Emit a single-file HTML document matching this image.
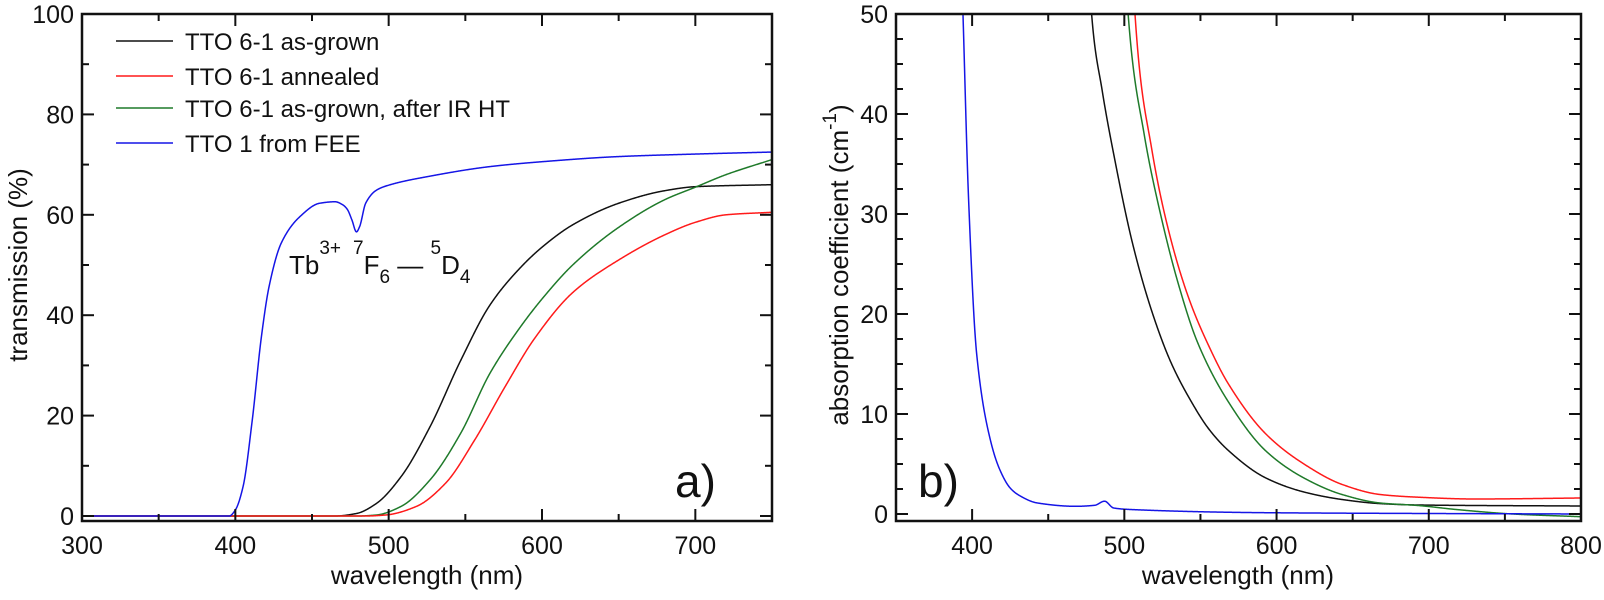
<!DOCTYPE html>
<html><head><meta charset="utf-8"><style>
body{margin:0;background:#fff}
svg text{font-family:"Liberation Sans",sans-serif;fill:#111}
</style></head><body>
<svg id="c" width="1604" height="595" xmlns="http://www.w3.org/2000/svg"></svg>
<script>
// Panel a) transmission data
const aBlueX=[300,396,400,405,411,417,422,430,442,455,465,470,473,476,479,481,485,492,500,527,566,601,650,700,750];
const aBlueY=[0,0,1.2,5.8,19,35.7,45.7,54.4,59.6,62.3,62.6,62,61.1,59,56.6,57.6,62.3,64.9,65.9,67.7,69.6,70.6,71.6,72.1,72.5];
const aBlackX=[300,465,479,492,508,527,547,566,586,601,620,650,680,700,750];
const aBlackY=[0,0,0.5,2.5,7.8,17.8,31,42,49.5,53.8,58,62.3,64.8,65.6,66];
const aGreenX=[300,480,492,508,527,547,566,586,601,620,650,680,700,720,750];
const aGreenY=[0,0,0.2,1.9,7.2,16.5,28.4,37.7,43.6,50,57.5,63,65.5,68,71];
const aRedX=[300,485,498,518,537,556,576,595,620,650,680,700,720,750];
const aRedY=[0,0,0.2,1.9,6.5,15.1,25.8,35.3,44.5,51,56,58.5,60,60.5];
const aXTicks=[300,400,500,600,700];
const aYTicks=[0,20,40,60,80,100];
// Panel b) absorption data
const bBlueX=[392,394,397.7,403,412,418,425,430.5,443,468,480.5,487,493,505.5,593,700,800];
const bBlueY=[60,50,31.4,16,7.4,4.5,2.6,1.9,1.1,0.77,0.87,1.28,0.6,0.44,0.13,0.05,0];
const bBlackX=[476,478.5,485.5,493,505.5,518,530.5,543,555.5,568,593,618,643,668,693,800];
const bBlackY=[60,50,42.3,36,27,20.3,15.2,11.5,8.5,6.4,3.6,2.2,1.45,1.04,0.9,0.8];
const bGreenX=[500,502.5,513,523,535.5,548,568,593,618,643,668,693,718,755,800];
const bGreenY=[60,50,38,30.5,23,17.2,11.3,6.3,3.6,1.95,1.1,0.85,0.45,0,-0.27];
const bRedX=[505,507,518,530.5,543,555.5,568,593,618,643,668,693,730,800];
const bRedY=[60,50,36.5,27.5,21.3,16.8,13.1,8,5,2.96,1.95,1.68,1.5,1.6];
const bXTicks=[400,500,600,700,800];
const bYTicks=[0,10,20,30,40,50];

const NS="http://www.w3.org/2000/svg";
const svg=document.getElementById('c');
function el(t,a,p){const e=document.createElementNS(NS,t);for(const k in a)e.setAttribute(k,a[k]);(p||svg).appendChild(e);return e;}
function txt(s,a,p){const e=el('text',a,p);e.textContent=s;return e;}

function monotone(xs,ys){
  const n=xs.length,d=[],m=[];
  for(let i=0;i<n-1;i++)d.push((ys[i+1]-ys[i])/(xs[i+1]-xs[i]));
  m[0]=d[0];m[n-1]=d[n-2];
  for(let i=1;i<n-1;i++){
    if(d[i-1]*d[i]<=0)m[i]=0;
    else{const w1=2*(xs[i+1]-xs[i])+(xs[i]-xs[i-1]),w2=(xs[i+1]-xs[i])+2*(xs[i]-xs[i-1]);
      m[i]=(w1+w2)/(w1/d[i-1]+w2/d[i]);}
  }
  return function(x){
    let i=0;while(i<n-2&&x>xs[i+1])i++;
    const h=xs[i+1]-xs[i],t=(x-xs[i])/h,t2=t*t,t3=t2*t;
    return (2*t3-3*t2+1)*ys[i]+(t3-2*t2+t)*h*m[i]+(-2*t3+3*t2)*ys[i+1]+(t3-t2)*h*m[i+1];
  };
}

function panel(o){
  const g=el('g',{});
  
  
  const sx=v=>o.x0+(v-o.xmin)/(o.xmax-o.xmin)*(o.x1-o.x0);
  const sy=v=>o.y0+(v-o.ymin)/(o.ymax-o.ymin)*(o.y1-o.y0);
  const clipId='clip'+o.name;
  const cp=el('clipPath',{id:clipId},g);
  el('rect',{x:o.x0,y:o.y1,width:o.x1-o.x0,height:o.fb-o.y1},cp);
  o.series.forEach(s=>{
    const f=monotone(s.x,s.y);
    const a=s.x[0],b=s.x[s.x.length-1];
    let d='';
    for(let v=a;v<=b+1e-9;v+=0.25){d+=(d?' L':'M')+sx(v).toFixed(2)+','+sy(f(v)).toFixed(2);}
    const p=el('path',{d:d,fill:'none',stroke:s.c,'stroke-width':s.w||1.5,'stroke-linejoin':'round','clip-path':'url(#'+clipId+')'},g);
    
    
  });
  const fr=el('rect',{x:o.x0,y:o.y1,width:o.x1-o.x0,height:o.fb-o.y1,fill:'none',stroke:'#111','stroke-width':2.5},g);
  
  
  for(let v=o.xmin;v<=o.xmax+0.01;v+=o.xminor){
    const major=o.xt.includes(v);const L=major?12:7;const X=sx(v);
    el('line',{x1:X,x2:X,y1:o.fb,y2:o.fb-L,stroke:'#111','stroke-width':2},g);
    el('line',{x1:X,x2:X,y1:o.y1,y2:o.y1+L,stroke:'#111','stroke-width':2},g);
  }
  o.xt.forEach(v=>{const t=txt(String(v),{x:sx(v),y:o.fb+33,'font-size':25,'text-anchor':'middle'},g);
    });
  for(let v=o.ymin;v<=o.ymax+0.01;v+=o.yminor){
    const major=o.yt.includes(v);const L=major?12:7;const Y=sy(v);
    el('line',{x1:o.x0,x2:o.x0+L,y1:Y,y2:Y,stroke:'#111','stroke-width':2},g);
    el('line',{x1:o.x1,x2:o.x1-L,y1:Y,y2:Y,stroke:'#111','stroke-width':2},g);
  }
  o.yt.forEach(v=>{const t=txt(String(v),{x:o.x0-8,y:sy(v)+9,'font-size':25,'text-anchor':'end'},g);
    });
  return g;
}

panel({name:'panel-a',x0:82,x1:772,y0:516,y1:14,fb:521,xmin:300,xmax:750,ymin:0,ymax:100,xt:aXTicks,yt:aYTicks,xminor:50,yminor:10,
  series:[{x:aBlackX,y:aBlackY,c:'#111',n:'series-as-grown'},{x:aGreenX,y:aGreenY,c:'#1f7a2a',n:'series-after-ir-ht'},
          {x:aRedX,y:aRedY,c:'#ff1a1a',n:'series-annealed'},{x:aBlueX,y:aBlueY,c:'#1515e6',n:'series-fee'}]});
panel({name:'panel-b',x0:896,x1:1581,y0:514,y1:14,fb:521,xmin:350,xmax:800,ymin:0,ymax:50,xt:bXTicks,yt:bYTicks,xminor:50,yminor:2.5,
  series:[{x:bBlackX,y:bBlackY,c:'#111',n:'series-as-grown'},{x:bGreenX,y:bGreenY,c:'#1f7a2a',n:'series-after-ir-ht'},
          {x:bRedX,y:bRedY,c:'#ff1a1a',n:'series-annealed'},{x:bBlueX,y:bBlueY,c:'#1515e6',n:'series-fee'}]});
</script>
<svg width="1604" height="595" style="position:absolute;left:0;top:0">
<g font-size="24">
 <g><line x1="116" x2="173" y1="41" y2="41" stroke="#111" stroke-width="1.5"/><text x="185" y="50">TTO 6-1 as-grown</text></g>
 <g><line x1="116" x2="173" y1="76" y2="76" stroke="#ff1a1a" stroke-width="1.5"/><text x="185" y="85">TTO 6-1 annealed</text></g>
 <g><line x1="116" x2="173" y1="108" y2="108" stroke="#1f7a2a" stroke-width="1.5"/><text x="185" y="117">TTO 6-1 as-grown, after IR HT</text></g>
 <g><line x1="116" x2="173" y1="143" y2="143" stroke="#1515e6" stroke-width="1.5"/><text x="185" y="152">TTO 1 from FEE</text></g>
</g>
<text x="289" y="274" font-size="26">Tb<tspan dy="-20" font-size="19">3+</tspan><tspan dx="12" font-size="19">7</tspan><tspan dy="20">F</tspan><tspan dy="9" font-size="19">6</tspan><tspan dy="-9"> — </tspan><tspan dy="-20" font-size="19">5</tspan><tspan dy="20">D</tspan><tspan dy="9" font-size="19">4</tspan></text>
<text x="675" y="497" font-size="46">a)</text>
<text x="918" y="497" font-size="46">b)</text>
<text x="427" y="584" font-size="26" text-anchor="middle">wavelength (nm)</text>
<text x="1238" y="584" font-size="26" text-anchor="middle">wavelength (nm)</text>
<text transform="translate(27,265) rotate(-90)" font-size="26" text-anchor="middle">transmission (%)</text>
<text transform="translate(848,265) rotate(-90)" font-size="26" text-anchor="middle">absorption coefficient (cm<tspan dy="-12" font-size="19">-1</tspan><tspan dy="12">)</tspan></text>
</svg>
</body></html>
